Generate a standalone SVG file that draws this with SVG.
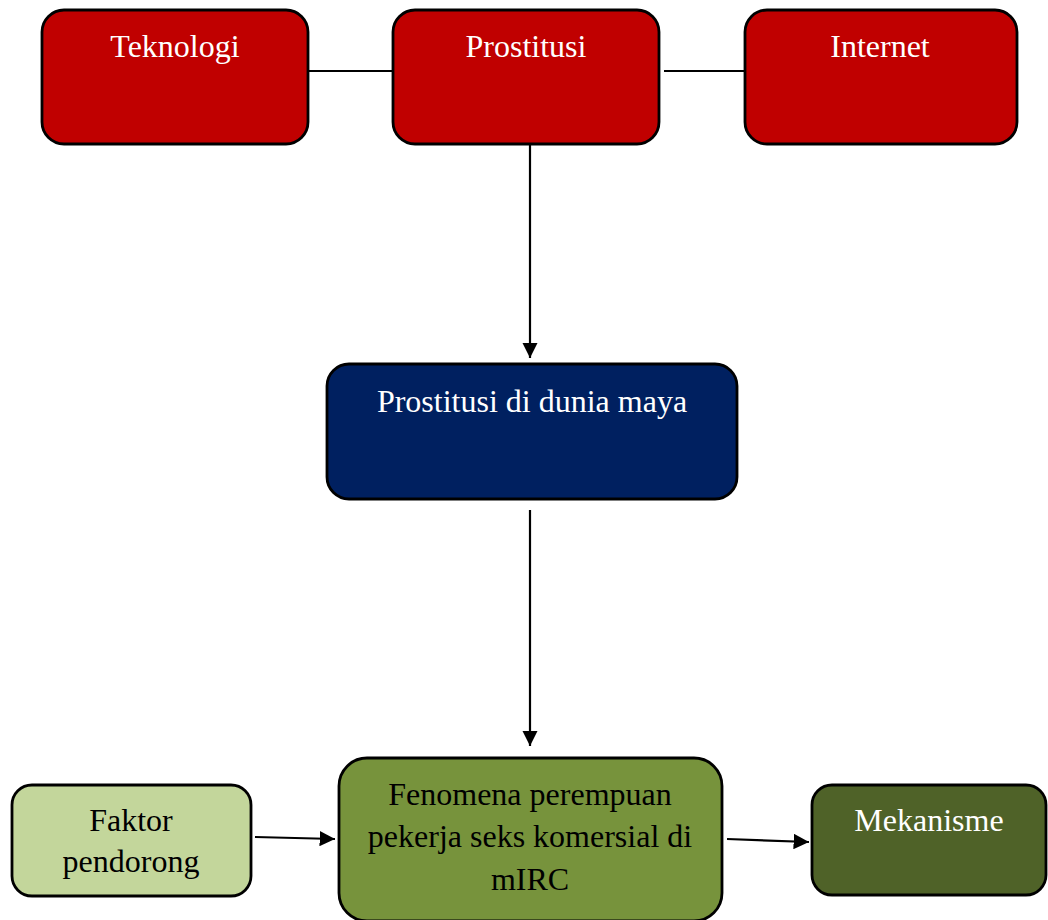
<svg xmlns="http://www.w3.org/2000/svg" width="1048" height="920" viewBox="0 0 1048 920">
<defs>
<style>
.box{stroke:#000;stroke-width:2.8}
.t{font-family:"Liberation Serif","Times New Roman",serif;font-size:32px;text-anchor:middle}
.w{fill:#fff}
.k{fill:#000}
.ln{stroke:#000;stroke-width:2.2;fill:none}
</style>
<marker id="ah" viewBox="0 0 10 10" refX="10" refY="5" markerWidth="7" markerHeight="7" markerUnits="strokeWidth" orient="auto">
<path d="M0,0 L10,5 L0,10 Z" fill="#000"/>
</marker>
</defs>
<rect width="1048" height="920" fill="#fff"/>
<g id="connectors">
<line class="ln" x1="308" y1="71" x2="393" y2="71"/>
<line class="ln" x1="664" y1="71" x2="745" y2="71"/>
<line class="ln" x1="530" y1="145" x2="530" y2="358" marker-end="url(#ah)"/>
<line class="ln" x1="530" y1="510" x2="530" y2="746" marker-end="url(#ah)"/>
<line class="ln" x1="255" y1="837" x2="335" y2="839" marker-end="url(#ah)"/>
<line class="ln" x1="727" y1="839" x2="809" y2="842" marker-end="url(#ah)"/>
</g>
<g id="teknologi">
<rect class="box" x="42" y="10" width="266" height="134" rx="22" fill="#C00000"/>
<text class="t w" x="175" y="57">Teknologi</text>
</g>
<g id="prostitusi">
<rect class="box" x="393" y="10" width="266" height="134" rx="22" fill="#C00000"/>
<text class="t w" x="526" y="57">Prostitusi</text>
</g>
<g id="internet">
<rect class="box" x="745" y="10" width="272" height="134" rx="22" fill="#C00000"/>
<text class="t w" x="880" y="57">Internet</text>
</g>
<g id="prostitusi-maya">
<rect class="box" x="327" y="364" width="410" height="135" rx="22" fill="#002060"/>
<text class="t w" x="532" y="412">Prostitusi di dunia maya</text>
</g>
<g id="fenomena">
<rect class="box" x="339" y="758" width="383" height="163" rx="28" fill="#77933C"/>
<text class="t k" x="530" y="805">Fenomena perempuan</text>
<text class="t k" x="530" y="847">pekerja seks komersial di</text>
<text class="t k" x="530" y="890">mIRC</text>
</g>
<g id="faktor">
<rect class="box" x="12" y="785" width="239" height="111" rx="20" fill="#C3D69B"/>
<text class="t k" x="131" y="831">Faktor</text>
<text class="t k" x="131" y="872">pendorong</text>
</g>
<g id="mekanisme">
<rect class="box" x="812" y="785" width="234" height="110" rx="20" fill="#4F6228"/>
<text class="t w" x="929" y="831">Mekanisme</text>
</g>
</svg>
